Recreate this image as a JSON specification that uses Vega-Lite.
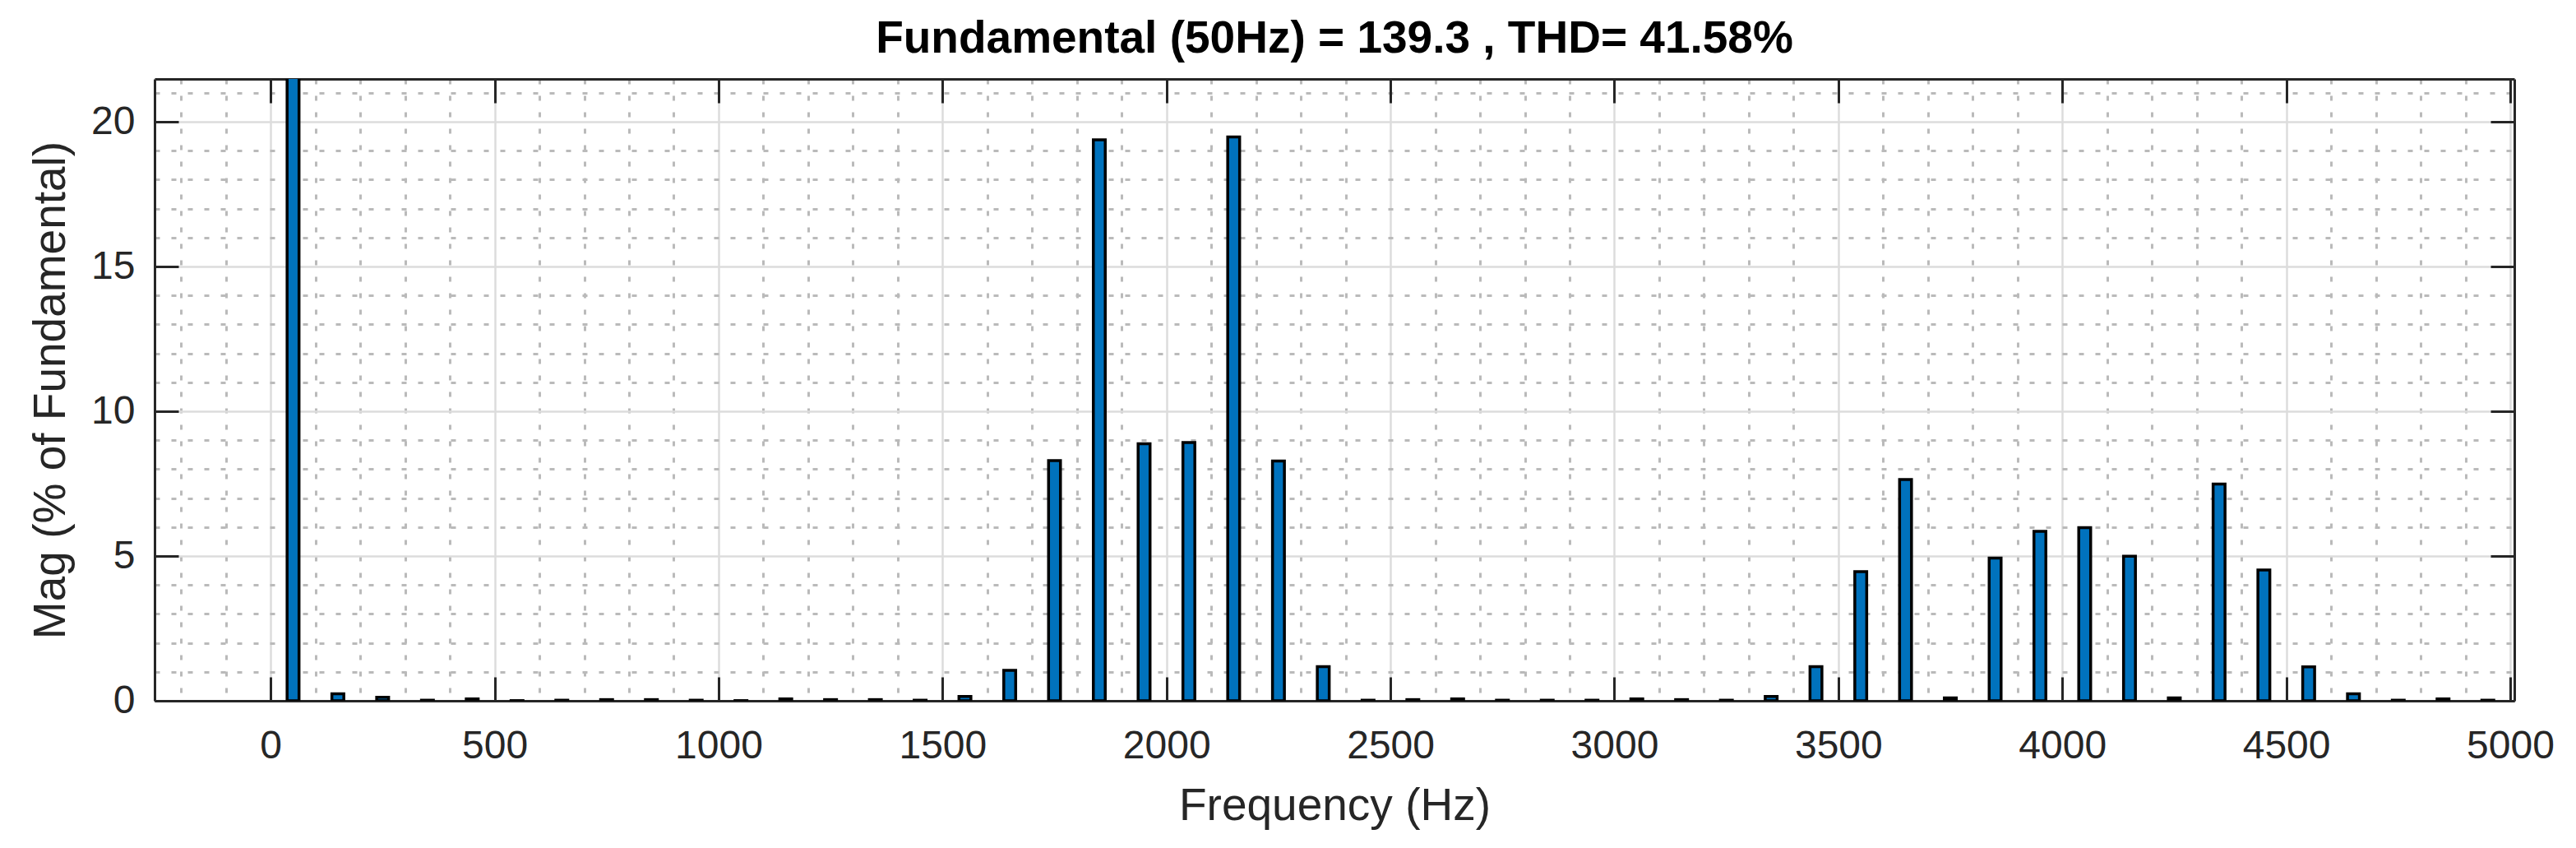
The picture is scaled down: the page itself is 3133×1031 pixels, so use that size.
{
  "$schema": "https://vega.github.io/schema/vega-lite/v6.json",
  "width": 2870,
  "height": 756,
  "autosize": {"type": "none"},
  "padding": {"left": 188, "top": 96, "right": 75, "bottom": 179},
  "background": "#ffffff",
  "config": {
    "view": {"stroke": null},
    "font": "Liberation Sans",
    "axis": {"labelFont": "Liberation Sans", "titleFont": "Liberation Sans", "labelColor": "#262626", "titleColor": "#262626"}
  },
  "title": {
    "text": "Fundamental (50Hz) = 139.3 , THD= 41.58%",
    "font": "Liberation Sans",
    "fontSize": 55,
    "fontWeight": "bold",
    "color": "#000000",
    "anchor": "middle",
    "baseline": "bottom",
    "offset": 20,
    "dy": 56
  },
  "data": {
    "values": [
      {"f": 50, "mag": 100},
      {"f": 150, "mag": 0.24},
      {"f": 250, "mag": 0.12},
      {"f": 350, "mag": 0.02},
      {"f": 450, "mag": 0.065},
      {"f": 550, "mag": 0.005},
      {"f": 650, "mag": 0.02},
      {"f": 750, "mag": 0.04},
      {"f": 850, "mag": 0.04},
      {"f": 950, "mag": 0.02},
      {"f": 1050, "mag": 0.005},
      {"f": 1150, "mag": 0.065},
      {"f": 1250, "mag": 0.04},
      {"f": 1350, "mag": 0.04},
      {"f": 1450, "mag": 0.02},
      {"f": 1550, "mag": 0.15},
      {"f": 1650, "mag": 1.05},
      {"f": 1750, "mag": 8.3},
      {"f": 1850, "mag": 19.38},
      {"f": 1950, "mag": 8.88},
      {"f": 2050, "mag": 8.92},
      {"f": 2150, "mag": 19.48},
      {"f": 2250, "mag": 8.28},
      {"f": 2350, "mag": 1.18},
      {"f": 2450, "mag": 0.02},
      {"f": 2550, "mag": 0.04},
      {"f": 2650, "mag": 0.065},
      {"f": 2750, "mag": 0.02},
      {"f": 2850, "mag": 0.02},
      {"f": 2950, "mag": 0.02},
      {"f": 3050, "mag": 0.065},
      {"f": 3150, "mag": 0.04},
      {"f": 3250, "mag": 0.02},
      {"f": 3350, "mag": 0.15},
      {"f": 3450, "mag": 1.18},
      {"f": 3550, "mag": 4.46},
      {"f": 3650, "mag": 7.64},
      {"f": 3750, "mag": 0.1},
      {"f": 3850, "mag": 4.93},
      {"f": 3950, "mag": 5.85},
      {"f": 4050, "mag": 5.98},
      {"f": 4150, "mag": 4.99},
      {"f": 4250, "mag": 0.1},
      {"f": 4350, "mag": 7.49},
      {"f": 4450, "mag": 4.52},
      {"f": 4550, "mag": 1.17},
      {"f": 4650, "mag": 0.24},
      {"f": 4750, "mag": 0.02},
      {"f": 4850, "mag": 0.065},
      {"f": 4950, "mag": 0.02}
    ]
  },
  "resolve": {"axis": {"x": "independent", "y": "independent"}},
  "layer": [
    {
      "mark": {"type": "point", "opacity": 0, "clip": true},
      "encoding": {
        "x": {
          "field": "f", "type": "quantitative",
          "scale": {"domain": [-250, 5000], "nice": false, "zero": false},
          "axis": {
            "orient": "bottom",
            "values": [-200,-100,100,200,300,400,600,700,800,900,1100,1200,1300,1400,1600,1700,1800,1900,2100,2200,2300,2400,2600,2700,2800,2900,3100,3200,3300,3400,3600,3700,3800,3900,4100,4200,4300,4400,4600,4700,4800,4900],
            "grid": true, "gridColor": "#bababa", "gridWidth": 3, "gridDash": [6, 14],
            "ticks": false, "labels": false, "domain": false, "title": null
          }
        },
        "y": {
          "field": "mag", "type": "quantitative",
          "scale": {"domain": [0, 21.48], "nice": false, "zero": true},
          "axis": {
            "orient": "left",
            "values": [1,2,3,4,6,7,8,9,11,12,13,14,16,17,18,19,21],
            "grid": true, "gridColor": "#bababa", "gridWidth": 3, "gridDash": [6, 14],
            "ticks": false, "labels": false, "domain": false, "title": null
          }
        }
      }
    },
    {
      "mark": {"type": "bar", "size": 14.5, "color": "#0072BD", "stroke": "#000000", "strokeWidth": 3.5, "clip": true},
      "encoding": {
        "x": {
          "field": "f", "type": "quantitative",
          "scale": {"domain": [-250, 5000], "nice": false, "zero": false},
          "axis": {
            "orient": "bottom",
            "values": [0,500,1000,1500,2000,2500,3000,3500,4000,4500,5000],
            "format": "d",
            "grid": true, "gridColor": "#dcdcdc", "gridWidth": 2.5,
            "ticks": true, "tickSize": -29, "tickWidth": 3, "tickColor": "#262626",
            "labels": true, "labelFontSize": 48, "labelPadding": 60, "labelFlush": false,
            "domain": true, "domainColor": "#262626", "domainWidth": 3,
            "title": "Frequency (Hz)", "titleFontSize": 55, "titleFontWeight": "normal", "titlePadding": 22
          }
        },
        "y": {
          "field": "mag", "type": "quantitative",
          "scale": {"domain": [0, 21.48], "nice": false, "zero": true},
          "axis": {
            "orient": "left",
            "values": [0,5,10,15,20],
            "grid": true, "gridColor": "#dcdcdc", "gridWidth": 2.5,
            "ticks": true, "tickSize": -29, "tickWidth": 3, "tickColor": "#262626",
            "labels": true, "labelFontSize": 48, "labelPadding": 53, "labelFlush": false,
            "domain": true, "domainColor": "#262626", "domainWidth": 3,
            "title": "Mag (% of Fundamental)", "titleFontSize": 55, "titleFontWeight": "normal", "titlePadding": 20
          }
        }
      }
    },
    {
      "mark": {"type": "point", "opacity": 0, "clip": true},
      "encoding": {
        "x": {
          "field": "f", "type": "quantitative",
          "scale": {"domain": [-250, 5000], "nice": false, "zero": false},
          "axis": {
            "orient": "top",
            "values": [0,500,1000,1500,2000,2500,3000,3500,4000,4500,5000],
            "grid": false,
            "ticks": true, "tickSize": -29, "tickWidth": 3, "tickColor": "#262626",
            "labels": false,
            "domain": true, "domainColor": "#262626", "domainWidth": 3,
            "title": null
          }
        },
        "y": {
          "field": "mag", "type": "quantitative",
          "scale": {"domain": [0, 21.48], "nice": false, "zero": true},
          "axis": {
            "orient": "right",
            "values": [0,5,10,15,20],
            "grid": false,
            "ticks": true, "tickSize": -29, "tickWidth": 3, "tickColor": "#262626",
            "labels": false,
            "domain": true, "domainColor": "#262626", "domainWidth": 3,
            "title": null
          }
        }
      }
    }
  ]
}
